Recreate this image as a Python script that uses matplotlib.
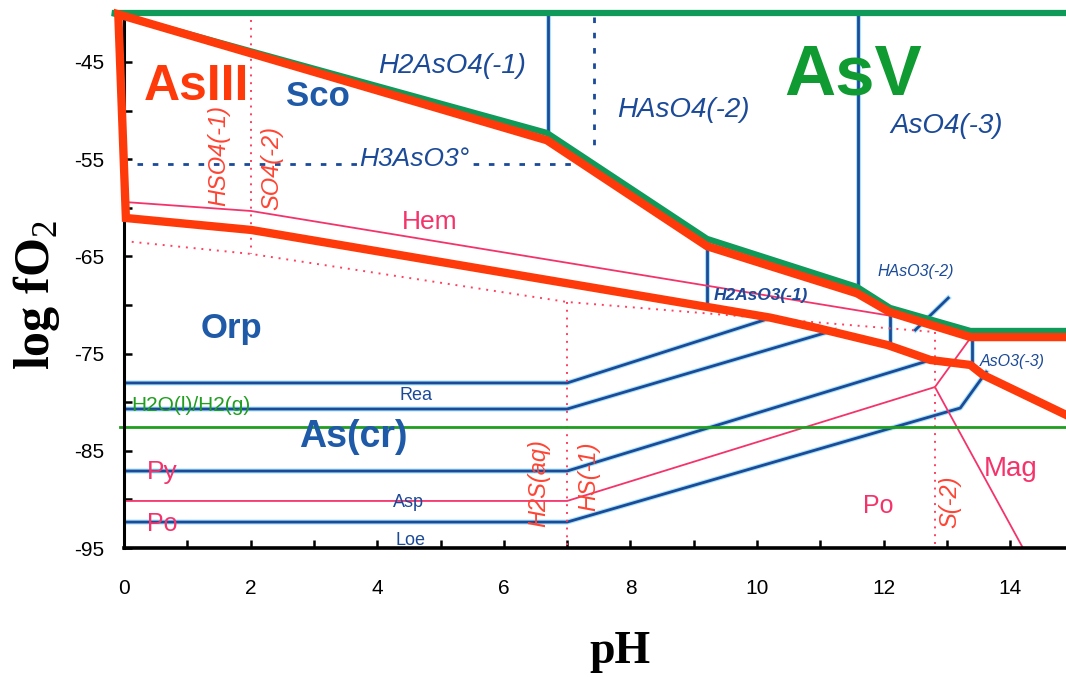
import numpy as np
import matplotlib; matplotlib.use("Agg")
import matplotlib.pyplot as plt
import matplotlib.patheffects as pe
from matplotlib.ticker import MultipleLocator

plt.rcParams['font.family'] = ['Liberation Sans', 'DejaVu Sans']
plt.rcParams['axes.unicode_minus'] = False
plt.rcParams['mathtext.fontset'] = 'custom'
plt.rcParams['mathtext.rm'] = 'Liberation Serif'

# ---- field outlines (pH, log fO2)
asv_ph = [14.88, -0.19, 6.68, 9.21, 11.58, 12.10, 13.37, 14.88]
asv_lf = [-39.96, -39.96, -52.30, -63.20, -68.15, -70.30, -72.67, -72.67]
asiii_ph = [14.88, 13.37, 12.10, 11.58, 9.21, 6.68, -0.09, 0.03, 2.01,
            10.21, 10.95, 12.06, 12.74, 13.37, 13.57, 14.88]
asiii_lf = [-73.30, -73.30, -70.75, -68.80, -63.95, -53.05, -40.10, -61.05, -62.28,
            -71.30, -72.37, -74.12, -75.66, -76.17, -77.20, -81.30]

# ---- As aqueous / mineral boundaries (blue)
b_h2aso4_ph, b_h2aso4_lf = [6.70, 6.70], [-39.96, -52.30]
b_haso4_ph, b_haso4_lf = [7.43, 7.43], [-40.37, -53.74]
b_h3aso3_ph, b_h3aso3_lf = [0.21, 7.09], [-55.49, -55.49]
b_h2aso3_ph, b_h2aso3_lf = [9.21, 9.21], [-63.60, -69.70]
b_aso4_ph, b_aso4_lf = [11.60, 11.60], [-39.96, -68.20]
b_haso3_ph, b_haso3_lf = [12.10, 12.10], [-70.60, -73.90]
b_ptr_ph, b_ptr_lf = [13.02, 12.50], [-69.28, -72.57]
b_aso3_ph, b_aso3_lf = [13.40, 13.40], [-73.40, -75.90]
rea_hi_ph, rea_hi_lf = [0.0, 7.0, 10.21], [-78.02, -78.02, -71.34]
rea_lo_ph, rea_lo_lf = [0.0, 7.0, 11.23], [-80.70, -80.70, -72.57]
asp_hi_ph, asp_hi_lf = [0.0, 7.0, 12.74], [-87.08, -87.08, -75.66]
asp_lo_ph, asp_lo_lf = [0.0, 7.0, 13.21, 13.62], [-92.33, -92.33, -80.60, -76.90]

# ---- Fe minerals (pink)
hem_ph, hem_lf = [0.0, 2.01, 12.10], [-59.40, -60.33, -71.10]
pypo_ph, pypo_lf = [0.0, 7.0, 12.81, 13.37], [-90.16, -90.16, -78.44, -73.40]
mag_ph, mag_lf = [12.81, 14.20], [-78.44, -95.0]

# ---- S species (dotted red)
s_ph, s_lf = [0.0, 2.01, 7.0, 12.81], [-63.42, -64.75, -69.69, -72.78]
s_verts = [(2.01, -40.68, -64.75), (7.0, -69.69, -95.0), (12.81, -72.78, -95.0)]

# ---- water stability
h2o_lf = -82.55

BLUE = "#1b4a98"; PINK = "#f5336b"; ORG = "#ff4433"; DOT = "#ff4060"
RED = "#ff3a0a"; GRN = "#109a5a"; TXTG = "#0f9a32"; WG = "#1f9e1f"; SB = "#1e5aa8"
halo = [pe.Stroke(linewidth=3.6, foreground="#a8e2f7"), pe.Normal()]

fig = plt.figure(figsize=(10.66, 6.77), dpi=100)
ax = fig.add_axes([124/1066, 129/677, 942/1066, 535/677])
ax.set_xlim(0, 14.88); ax.set_ylim(-95, -39.96)

for xs, ys in [(b_h2aso4_ph, b_h2aso4_lf), (b_h2aso3_ph, b_h2aso3_lf), (b_aso4_ph, b_aso4_lf),
               (b_haso3_ph, b_haso3_lf), (b_ptr_ph, b_ptr_lf), (b_aso3_ph, b_aso3_lf),
               (rea_hi_ph, rea_hi_lf), (rea_lo_ph, rea_lo_lf), (asp_hi_ph, asp_hi_lf),
               (asp_lo_ph, asp_lo_lf)]:
    ax.plot(xs, ys, color=BLUE, lw=2.0, path_effects=halo)
ax.plot(b_haso4_ph, b_haso4_lf, color=BLUE, lw=2.0, ls=(0, (2, 3.5)))
ax.plot(b_h3aso3_ph, b_h3aso3_lf, color=BLUE, lw=2.0, ls=(0, (2, 3.5)))

for xs, ys in [(hem_ph, hem_lf), (pypo_ph, pypo_lf), (mag_ph, mag_lf)]:
    ax.plot(xs, ys, color=PINK, lw=1.3)

ax.plot(s_ph, s_lf, color=DOT, lw=1.4, ls=(0, (1, 3)))
for x, y0, y1 in s_verts:
    ax.plot([x, x], [y0, y1], color=DOT, lw=1.4, ls=(0, (1, 3)))

ax.plot([-0.06, 14.88], [h2o_lf, h2o_lf], color=WG, lw=2.0, clip_on=False)

ax.plot(asv_ph, asv_lf, color=GRN, lw=4.5, solid_joinstyle="miter", clip_on=False, zorder=4)
ax.plot(asiii_ph, asiii_lf, color=RED, lw=6.0, solid_joinstyle="miter", clip_on=False, zorder=5)

# ---- labels
ax.text(1.15, -47.57, "AsIII", color=RED, fontsize=36, fontweight="bold", ha="center", va="center", zorder=6)
ax.text(11.52, -46.54, "AsV", color=TXTG, fontsize=51, fontweight="bold", ha="center", va="center", zorder=6)
for x, y, s in [(3.07, -48.5, "Sco"), (1.69, -72.4, "Orp")]:
    ax.text(x, y, s, color=SB, fontsize=25, fontweight="bold", ha="center", va="center", zorder=6)
ax.text(3.63, -83.6, "As(cr)", color=SB, fontsize=27, fontweight="bold", ha="center", va="center", zorder=6)

for x, y, s, fs in [(5.18, -45.41, "H2AsO4(-1)", 20), (8.83, -49.94, "HAsO4(-2)", 20),
                    (13.0, -51.58, "AsO4(-3)", 20), (12.51, -66.6, "HAsO3(-2)", 11.5),
                    (14.03, -75.86, "AsO3(-3)", 11.5)]:
    ax.text(x, y, s, color=BLUE, fontsize=fs, style="italic", ha="center", va="center", zorder=6)
ax.text(4.58, -54.95, "H3AsO3°", color=BLUE, fontsize=19, style="italic", ha="center", va="center",
        zorder=6, bbox=dict(facecolor="white", edgecolor="none", pad=1))
ax.text(10.06, -69.07, "H2AsO3(-1)", color=BLUE, fontsize=12.5, style="italic", fontweight="bold",
        ha="center", va="center", zorder=6)
for x, y, s in [(4.61, -79.26, "Rea"), (4.49, -90.37, "Asp"), (4.53, -94.18, "Loe")]:
    ax.text(x, y, s, color=BLUE, fontsize=13, ha="center", va="center", zorder=6)

for x, y, s, fs in [(4.83, -61.46, "Hem", 19), (0.60, -87.18, "Py", 19), (0.60, -92.53, "Po", 18),
                    (14.0, -86.87, "Mag", 20), (11.91, -90.68, "Po", 18)]:
    ax.text(x, y, s, color=PINK, fontsize=fs, ha="center", va="center", zorder=6)

for x, y, s in [(1.49, -54.57, "HSO4(-1)"), (2.34, -55.9, "SO4(-2)"), (6.55, -88.3, "H2S(aq)"),
                (7.34, -87.6, "HS(-1)"), (13.05, -90.27, "S(-2)")]:
    ax.text(x, y, s, color=ORG, fontsize=17, style="italic", rotation=90, ha="center", va="center", zorder=6)

ax.text(1.06, -80.29, "H2O(l)/H2(g)", color=WG, fontsize=15, ha="center", va="center", zorder=6)

# ---- axes styling
for side in ("top", "right"):
    ax.spines[side].set_visible(False)
ax.spines["left"].set_linewidth(2.2)
ax.spines["bottom"].set_linewidth(2.6)
ax.xaxis.set_major_locator(MultipleLocator(2)); ax.xaxis.set_minor_locator(MultipleLocator(1))
ax.set_yticks(np.arange(-95, -40, 10)); ax.set_yticks(np.arange(-90, -40, 10), minor=True)
ax.tick_params(which="both", direction="in", width=1.8, length=6)
ax.tick_params(axis="x", pad=22, labelsize=15)
ax.tick_params(axis="y", pad=14, labelsize=15)

fig.text(620/1066, 1 - 652/677, "pH", family="Liberation Serif", fontweight="bold",
         fontsize=33, ha="center", va="center")
fig.text(37/1066, 1 - 295/677, r"log fO$_2$", family="Liberation Serif", fontweight="bold",
         fontsize=36, rotation=90, ha="center", va="center")

fig.savefig("out.png", dpi=100)
